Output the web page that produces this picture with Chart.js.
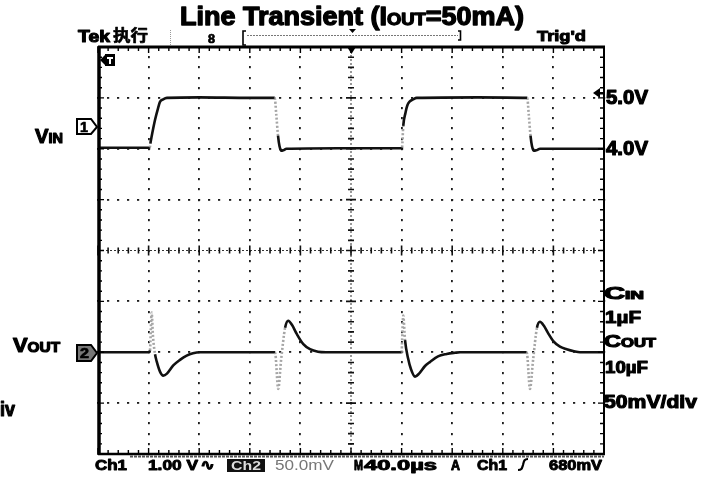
<!DOCTYPE html>
<html><head><meta charset="utf-8">
<script src="https://cdn.jsdelivr.net/npm/chart.js@4.4.1/dist/chart.umd.min.js"></script>
<style>html,body{margin:0;padding:0;background:#fff;overflow:hidden}canvas{display:block}</style>
</head><body>
<canvas id="c" width="714" height="479"></canvas>
<script>
// ---------- data ----------
const titleParts = ['Line Transient (I', 'OUT', '=50mA)'];
const timeMajor = [0, 40, 80, 120, 160, 200, 240, 280, 320, 360, 400];   // µs, 40 µs/div
const ch1Major = [-2, -1, 0, 1, 2, 3, 4, 5, 6];                           // V, 1 V/div
const ch1LevelValues = [5.0, 4.0];
const ch1LevelLabels = ['5.0V', '4.0V'];
const noteLines = ['C', 'IN', '1µF', 'C', 'OUT', '10µF', '50mV/div'];
const readoutLeft = ['Ch1', '1.00 V', '∿', 'Ch2', '50.0mV'];
const readoutRight = ['M', '40.0µs', 'A', 'Ch1', '680mV'];

const vinTime  = [0, 20, 40.6, 41.0, 41.4, 42.4, 45.1, 47.5, 49.0, 51.5, 54.5, 80, 120, 139.7,
                  140.9, 142.3, 143.5, 144.9, 146.5, 149.0, 190, 240.0, 240.4, 241.3, 243.0,
                  244.5, 246.5, 249.0, 252.0, 300, 339.3, 340.5, 341.9, 343.1, 344.6,
                  346.5, 349.5, 400];
const vinVolts = [4.02, 4.02, 4.02, 4.02, 4.10, 4.24, 4.57, 4.80, 4.92, 4.97, 5.00, 5.01, 5.00, 5.00,
                  4.68, 4.26, 4.05, 3.96, 3.97, 4.00, 4.01, 4.01, 4.03, 4.45, 4.70,
                  4.85, 4.93, 4.97, 5.00, 5.01, 5.00, 4.68, 4.26, 4.05, 3.96,
                  3.97, 4.00, 4.00];

const voutTime = [0, 40.3, 41.1, 42.4, 43.5, 45.1, 46.4, 49.0, 51.6, 54.5, 59.5, 64.8, 70.1, 75.1,
                  80.6, 139.9, 142.5, 144.7, 147.9, 150.4, 153.3, 157.1, 162.3, 167.6, 173.9,
                  180.2, 239.9, 241.3, 242.7, 245.1, 247.5, 250.6, 253.8, 258.5, 262.5, 268.8,
                  275.6, 282.2, 286.2, 338.9, 341.5, 343.9, 347.0, 349.4, 352.5, 355.7, 359.9,
                  365.2, 370.5, 376.3, 381.0, 400];
const voutMilliVolts = [0, 0, 2, 39, 15, -2, -9, -19, -23, -21, -13, -7.5, -3.3, -1,
                  0, 0, -36, -8, 24, 31, 27, 18, 8, 3, 0.5,
                  0, 0, 36, 12, -6, -17, -24, -21, -13.5, -9.5, -4,
                  -1.7, -0.5, 0, 0, -36, -8, 24, 30, 26, 19, 11,
                  5.5, 3, 1, 0, 0];

// ---------- helpers ----------
const SANS = '"Liberation Sans", Arial, sans-serif';
const CJK = '"Noto Sans CJK SC", sans-serif';
function textRun(ctx, parts, x, base, width, opts = {}) {
  const fam = opts.family || SANS, weight = opts.weight || 'bold';
  const heavy = opts.heavy === undefined ? 0.7 : opts.heavy;
  ctx.save();
  ctx.fillStyle = opts.color || '#000';
  ctx.strokeStyle = opts.color || '#000';
  ctx.lineWidth = heavy; ctx.lineJoin = 'round';
  ctx.textBaseline = 'alphabetic';
  ctx.textAlign = 'left';
  let w = 0;
  parts.forEach(p => { ctx.font = `${weight} ${p[1]}px ${fam}`; w += ctx.measureText(p[0]).width; });
  const s = width ? width / w : 1;
  ctx.translate(x, base); ctx.scale(s, 1);
  let cx = 0;
  parts.forEach(p => {
    ctx.font = `${weight} ${p[1]}px ${fam}`;
    ctx.fillText(p[0], cx, 0);
    if (heavy > 0) ctx.strokeText(p[0], cx, 0);
    cx += ctx.measureText(p[0]).width;
  });
  ctx.restore();
}
const steep = c => Math.abs((c.p1.y - c.p0.y) / Math.max(0.01, c.p1.x - c.p0.x)) > 7.5;

// ---------- graticule ----------
const graticule = {
  id: 'graticule',
  beforeDatasetsDraw(chart) {
    const { ctx, chartArea: a, scales: { x, y1 } } = chart;
    const xs = [], ys = [];
    for (let t = 0; t <= 400.001; t += 8) xs.push(x.getPixelForValue(t));
    for (let v = -2; v <= 6.001; v += 0.2) ys.push(y1.getPixelForValue(v));
    ctx.save();
    ctx.fillStyle = '#1c1c1c';
    timeMajor.forEach(t => {
      if (t === 0 || t === 400 || t === 200) return;
      const X = Math.round(x.getPixelForValue(t));
      ys.forEach(Y => ctx.fillRect(X - 1, Math.round(Y) - 1, 1.8, 2.2));
    });
    ch1Major.forEach(v => {
      if (v === -2 || v === 6 || v === 2) return;
      const Y = Math.round(y1.getPixelForValue(v));
      xs.forEach(X => ctx.fillRect(Math.round(X) - 1, Y - 1, 2.2, 1.8));
    });
    const cx = x.getPixelForValue(200), cy = y1.getPixelForValue(2);
    ctx.strokeStyle = '#333'; ctx.lineWidth = 1;
    ctx.setLineDash([2, 2]);
    ctx.beginPath();
    ctx.moveTo(a.left, cy); ctx.lineTo(a.right, cy);
    ctx.moveTo(cx, a.top); ctx.lineTo(cx, a.bottom);
    ctx.stroke();
    ctx.setLineDash([]);
    ctx.strokeStyle = '#111'; ctx.lineWidth = 1.6;
    ctx.beginPath();
    xs.forEach((X, i) => { const h = i % 5 === 0 ? 5 : 3; ctx.moveTo(X, cy - h); ctx.lineTo(X, cy + h); });
    ys.forEach((Y, i) => { const h = i % 5 === 0 ? 5 : 3; ctx.moveTo(cx - h, Y); ctx.lineTo(cx + h, Y); });
    ctx.stroke();
    ctx.restore();
  },
  afterDatasetsDraw(chart) {
    const { ctx, chartArea: a, scales: { x, y1 } } = chart;
    const xs = [], ys = [];
    for (let t = 0; t <= 400.001; t += 8) xs.push(x.getPixelForValue(t));
    for (let v = -2; v <= 6.001; v += 0.2) ys.push(y1.getPixelForValue(v));
    ctx.save();
    ctx.strokeStyle = '#000';
    ctx.lineWidth = 3.5; ctx.beginPath(); ctx.moveTo(a.left + 1, a.top - 1); ctx.lineTo(a.left + 1, a.bottom + 1); ctx.stroke();
    ctx.lineWidth = 3; ctx.beginPath(); ctx.moveTo(a.left, a.top); ctx.lineTo(a.right + 1, a.top); ctx.stroke();
    ctx.lineWidth = 2; ctx.beginPath(); ctx.moveTo(a.right, a.top); ctx.lineTo(a.right, a.bottom); ctx.stroke();
    ctx.lineWidth = 2.5; ctx.beginPath(); ctx.moveTo(a.left, a.bottom); ctx.lineTo(a.right + 1, a.bottom); ctx.stroke();
    ctx.lineWidth = 1.4; ctx.beginPath();
    xs.forEach((X, i) => {
      const h = i % 5 === 0 ? 6 : 4;
      ctx.moveTo(X, a.top); ctx.lineTo(X, a.top + h);
      ctx.moveTo(X, a.bottom); ctx.lineTo(X, a.bottom - h);
    });
    ys.forEach((Y, i) => {
      const h = i % 5 === 0 ? 6 : 4;
      ctx.moveTo(a.left, Y); ctx.lineTo(a.left + h, Y);
      ctx.moveTo(a.right, Y); ctx.lineTo(a.right - h, Y);
    });
    ctx.stroke();
    ctx.strokeStyle = '#555'; ctx.lineWidth = 2; ctx.setLineDash([3, 1]);
    ctx.beginPath(); ctx.moveTo(130, a.bottom + 2.5); ctx.lineTo(a.right, a.bottom + 2.5); ctx.stroke();
    ctx.setLineDash([]);
    const cx = x.getPixelForValue(200);
    ctx.fillStyle = '#000';
    ctx.beginPath(); ctx.moveTo(cx - 4.5, a.top - 1); ctx.lineTo(cx + 5.5, a.top - 1); ctx.lineTo(cx + 0.5, a.top + 7); ctx.closePath(); ctx.fill();
    ctx.beginPath(); ctx.moveTo(100, 60); ctx.lineTo(105, 55); ctx.lineTo(105, 65); ctx.closePath(); ctx.fill();
    ctx.fillRect(105, 54, 10, 12);
    ctx.fillStyle = '#fff'; ctx.fillRect(107, 57, 6, 2); ctx.fillRect(109, 57, 2, 7);
    ctx.restore();
  },
  afterDraw(chart) {
    const { ctx, scales: { x, y1 } } = chart;
    textRun(ctx, [[titleParts[0], 25], [titleParts[1], 17], [titleParts[2], 25]], 180, 25, 344, { heavy: 1.3 });
    textRun(ctx, [['Tek', 17]], 78, 42, 32, { heavy: 1.1 });
    textRun(ctx, [['执行', 16]], 113, 41, 35, { family: CJK, heavy: 0.6 });
    textRun(ctx, [["Trig'd", 15]], 537, 41, 49, { heavy: 1 });
    ctx.save();
    ctx.strokeStyle = '#999'; ctx.lineWidth = 1; ctx.setLineDash([1, 1]);
    ctx.beginPath(); ctx.moveTo(170.5, 30); ctx.lineTo(170.5, 45); ctx.stroke();
    ctx.strokeStyle = '#777'; ctx.setLineDash([2, 1]);
    ctx.beginPath(); ctx.moveTo(247, 35.5); ctx.lineTo(458, 35.5); ctx.stroke();
    ctx.setLineDash([]);
    ctx.strokeStyle = '#000'; ctx.lineWidth = 1.6;
    ctx.beginPath();
    ctx.moveTo(246, 31); ctx.lineTo(243, 31); ctx.lineTo(243, 45); ctx.lineTo(246, 45);
    ctx.moveTo(458, 31); ctx.lineTo(460.5, 31); ctx.lineTo(460.5, 40); ctx.lineTo(458, 40);
    ctx.stroke();
    ctx.fillStyle = '#000';
    ctx.beginPath(); ctx.moveTo(349, 29); ctx.lineTo(356, 29); ctx.lineTo(352.5, 33); ctx.closePath(); ctx.fill();
    ctx.restore();
    textRun(ctx, [['8', 12]], 208, 43, 7);
    textRun(ctx, [['V', 21], ['IN', 15]], 35, 143, 28, { heavy: 1.2 });
    textRun(ctx, [['V', 20], ['OUT', 14]], 13, 352, 47, { heavy: 1.2 });
    ctx.save();
    ctx.lineWidth = 2; ctx.strokeStyle = '#000'; ctx.fillStyle = '#fff';
    ctx.beginPath(); ctx.moveTo(77, 119); ctx.lineTo(91, 119); ctx.lineTo(97, 127); ctx.lineTo(91, 134); ctx.lineTo(77, 134); ctx.closePath();
    ctx.fill(); ctx.stroke();
    ctx.fillStyle = '#777';
    ctx.beginPath(); ctx.moveTo(77, 345); ctx.lineTo(91, 345); ctx.lineTo(97, 353); ctx.lineTo(91, 361); ctx.lineTo(77, 361); ctx.closePath();
    ctx.fill(); ctx.stroke();
    ctx.restore();
    textRun(ctx, [['1', 14]], 80, 132, 8);
    textRun(ctx, [['2', 14]], 80, 358, 9);
    ch1LevelValues.forEach((v, i) => {
      const Y = y1.getPixelForValue(v);
      textRun(ctx, [[ch1LevelLabels[i], 20]], 606, Y + 6.5, 42, { heavy: 1.2 });
    });
    ctx.save(); ctx.fillStyle = '#000';
    ctx.beginPath(); ctx.moveTo(593, 93); ctx.lineTo(600, 88); ctx.lineTo(600, 98); ctx.closePath(); ctx.fill();
    ctx.fillRect(599, 92, 6, 2.5);
    ctx.restore();
    textRun(ctx, [[noteLines[0], 17], [noteLines[1], 11]], 604, 299, 40, { heavy: 1.1 });
    textRun(ctx, [[noteLines[2], 17]], 605, 323, 36, { heavy: 1.1 });
    textRun(ctx, [[noteLines[3], 17], [noteLines[4], 12]], 604, 347, 52, { heavy: 1.1 });
    textRun(ctx, [[noteLines[5], 17]], 605, 373, 43, { heavy: 1.1 });
    textRun(ctx, [[noteLines[6], 18]], 604, 408, 93, { heavy: 1.1 });
    textRun(ctx, [['iv', 20]], 0, 416, 15, { heavy: 1.1 });
    textRun(ctx, [[readoutLeft[0], 14]], 95, 470, 32, { heavy: 0.9 });
    textRun(ctx, [[readoutLeft[1], 14]], 148, 470, 50, { heavy: 0.9 });
    textRun(ctx, [[readoutLeft[2], 15]], 200, 470, 15, { family: '"DejaVu Sans", sans-serif', heavy: 0.9 });
    ctx.save(); ctx.fillStyle = '#111'; ctx.fillRect(227, 459, 38, 13); ctx.restore();
    textRun(ctx, [[readoutLeft[3], 13]], 231, 470, 30, { color: '#ddd', heavy: 0 });
    textRun(ctx, [[readoutLeft[4], 14]], 275, 470, 59, { weight: 'normal', color: '#777', heavy: 0 });
    textRun(ctx, [[readoutRight[0], 14]], 354, 470, 9, { heavy: 0.9 });
    textRun(ctx, [[readoutRight[1], 14]], 364, 470, 73, { heavy: 0.9 });
    textRun(ctx, [[readoutRight[2], 14]], 451, 470, 9, { heavy: 0.9 });
    textRun(ctx, [[readoutRight[3], 14]], 477, 470, 30, { heavy: 0.9 });
    ctx.save(); ctx.strokeStyle = '#000'; ctx.lineWidth = 2.2;
    ctx.beginPath(); ctx.moveTo(518, 470); ctx.bezierCurveTo(522, 470, 522, 468, 523, 465); ctx.bezierCurveTo(524, 461, 524, 459, 528, 459); ctx.stroke();
    ctx.restore();
    textRun(ctx, [[readoutRight[4], 14]], 549, 470, 53, { heavy: 0.9 });
  }
};

// ---------- chart ----------
const seg = { borderColor: c => steep(c) ? '#a6a6a6' : undefined, borderDash: c => steep(c) ? [2, 2] : undefined };
new Chart(document.getElementById('c'), {
  type: 'line',
  data: {
    datasets: [
      { label: 'VIN', yAxisID: 'y1', data: vinTime.map((t, i) => ({ x: t, y: vinVolts[i] })),
        borderColor: '#111', borderWidth: 2.6, pointRadius: 0, cubicInterpolationMode: 'monotone', segment: seg },
      { label: 'VOUT', yAxisID: 'y2', data: voutTime.map((t, i) => ({ x: t, y: voutMilliVolts[i] })),
        borderColor: '#111', borderWidth: 2.6, pointRadius: 0, cubicInterpolationMode: 'monotone', segment: seg }
    ]
  },
  options: {
    responsive: false, animation: false, devicePixelRatio: 1,
    layout: { padding: { left: 98, right: 110, top: 47, bottom: 25 } },
    plugins: { legend: { display: false }, title: { display: false }, tooltip: { enabled: false } },
    scales: {
      x: { type: 'linear', min: 0, max: 400, display: false },
      y1: { type: 'linear', min: -2, max: 6, display: false },
      y2: { type: 'linear', min: -100, max: 300, display: false }
    }
  },
  plugins: [graticule]
});
</script>
</body></html>
